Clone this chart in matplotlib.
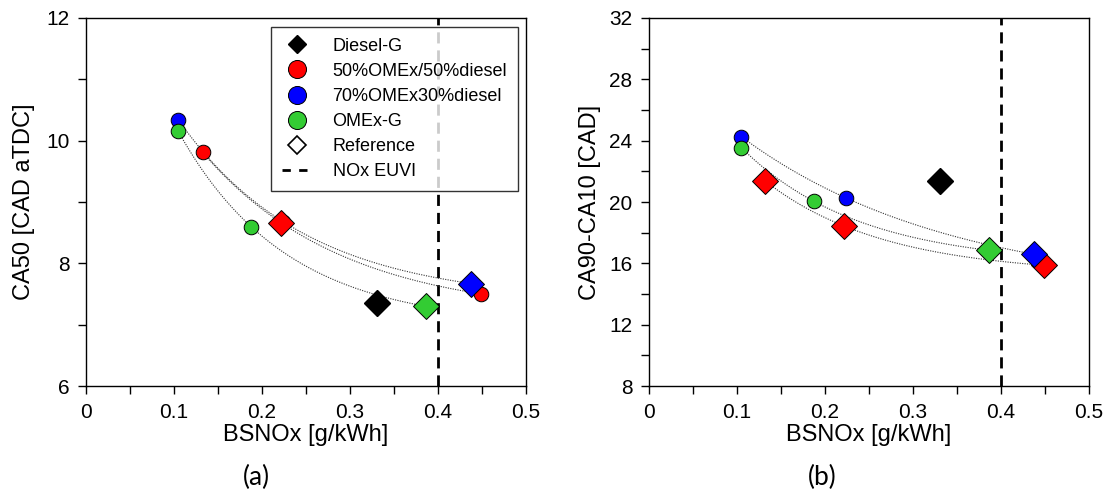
import numpy as np
import matplotlib
matplotlib.use('Agg')
import matplotlib.pyplot as plt
from matplotlib.lines import Line2D
from matplotlib.ticker import MultipleLocator

plt.rcParams['font.family'] = ['Liberation Sans', 'DejaVu Sans']

# fuels and colours
fuels = ['50%OMEx/50%diesel', '70%OMEx30%diesel', 'OMEx-G']
fuel_colors = ['#ff0000', '#0000ff', '#33cc33']

# panel (a): CA50 [CAD aTDC]
a_x = [[0.1326, 0.222, 0.449], [0.105, 0.224, 0.438], [0.105, 0.1875, 0.386]]
a_y = [[9.81, 8.66, 7.50], [10.34, 8.68, 7.67], [10.15, 8.60, 7.30]]
a_ref = [[False, True, False], [False, False, True], [False, False, True]]
a_diesel = (0.331, 7.36)

# panel (b): CA90-CA10 [CAD]
b_x = [[0.132, 0.222, 0.449], [0.105, 0.224, 0.4375], [0.105, 0.187, 0.386]]
b_y = [[21.37, 18.43, 15.87], [24.26, 20.26, 16.59], [23.54, 20.06, 16.85]]
b_ref = [[True, True, True], [False, False, True], [False, False, True]]
b_diesel = (0.331, 21.35)

nox_limit = 0.4


def fit_curve(x, y):
    # y = a + b*exp(-c*x), c by simple search
    x = np.asarray(x)
    y = np.asarray(y)
    best = None
    for c in np.linspace(0.5, 40, 800):
        A = np.column_stack([np.ones_like(x), np.exp(-c * x)])
        coef = np.linalg.lstsq(A, y, rcond=None)[0]
        err = np.sum((A @ coef - y) ** 2)
        if best is None or err < best[0]:
            best = (err, c, coef)
    _, c, coef = best
    xs = np.linspace(x.min(), x.max(), 200)
    return xs, coef[0] + coef[1] * np.exp(-c * xs)


def draw_panel(ax, xs, ys, refs, diesel):
    for x, y in zip(xs, ys):
        cx, cy = fit_curve(x, y)
        ax.plot(cx, cy, ls=(0, (1, 1.2)), color='#333333', lw=0.8, zorder=2)
    ax.axvline(nox_limit, color='k', ls=(0, (4, 2.5)), lw=2, zorder=1)
    # circles
    for x, y, r, col in zip(xs, ys, refs, fuel_colors):
        px = [v for v, f in zip(x, r) if not f]
        py = [v for v, f in zip(y, r) if not f]
        ax.plot(px, py, 'o', ms=10.5, mfc=col, mec='k', mew=0.7, ls='none', zorder=3)
    # diamonds
    ax.plot(diesel[0], diesel[1], 'D', ms=13, mfc='k', mec='k', zorder=4)
    for i in [2, 0, 1]:
        x, y, r = xs[i], ys[i], refs[i]
        px = [v for v, f in zip(x, r) if f]
        py = [v for v, f in zip(y, r) if f]
        ax.plot(px, py, 'D', ms=13, mfc=fuel_colors[i], mec='k', mew=0.7, ls='none', zorder=4)
    ax.set_xlim(0, 0.5)
    ax.xaxis.set_major_locator(MultipleLocator(0.1))
    ax.xaxis.set_minor_locator(MultipleLocator(0.05))
    ax.xaxis.set_major_formatter(plt.FuncFormatter(lambda v, p: '0' if abs(v) < 1e-9 else f'{v:.1f}'))
    ax.tick_params(which='both', direction='out', length=6, width=1, labelsize=15,
                   pad=6, top=False, right=False)
    ax.set_xlabel('BSNOx [g/kWh]', fontsize=17, labelpad=2)
    for s in ax.spines.values():
        s.set_linewidth(1)


fig = plt.figure(figsize=(11.12, 4.97), dpi=100)
ax1 = fig.add_axes([0.0773, 0.2233, 0.3957, 0.7405])
ax2 = fig.add_axes([0.5836, 0.2233, 0.3957, 0.7405])

draw_panel(ax1, a_x, a_y, a_ref, a_diesel)
ax1.set_ylim(6, 12)
ax1.yaxis.set_major_locator(MultipleLocator(2))
ax1.yaxis.set_minor_locator(MultipleLocator(1))
ax1.set_ylabel('CA50 [CAD aTDC]', fontsize=17, labelpad=8)

draw_panel(ax2, b_x, b_y, b_ref, b_diesel)
ax2.set_ylim(8, 32)
ax2.yaxis.set_major_locator(MultipleLocator(4))
ax2.yaxis.set_minor_locator(MultipleLocator(2))
ax2.set_ylabel('CA90-CA10 [CAD]', fontsize=17, labelpad=6)

handles = [Line2D([], [], marker='D', ls='none', ms=9.5, mfc='k', mec='k')]
for col in fuel_colors:
    handles.append(Line2D([], [], marker='o', ls='none', ms=13, mfc=col, mec='k', mew=0.7))
handles.append(Line2D([], [], marker='D', ls='none', ms=9, mfc='white', mec='k', mew=1.2))
handles.append(Line2D([], [], color='k', ls=(0, (3, 3)), lw=2))
labels = ['Diesel-G'] + fuels + ['Reference', 'NOx EUVI']
leg = ax1.legend(handles, labels, loc='upper right', bbox_to_anchor=(0.982, 0.976),
                 fontsize=13, frameon=True, fancybox=False, edgecolor='k',
                 handlelength=1.7, handletextpad=1.1, labelspacing=0.45, borderpad=0.6,
                 borderaxespad=0)
leg.get_frame().set_linewidth(1)

fig.text(0.231, 0.04, '(a)', ha='center', va='center', fontsize=19, family=['Lato', 'DejaVu Sans'])
fig.text(0.739, 0.04, '(b)', ha='center', va='center', fontsize=19, family=['Lato', 'DejaVu Sans'])

fig.savefig('out.png', dpi=100)
